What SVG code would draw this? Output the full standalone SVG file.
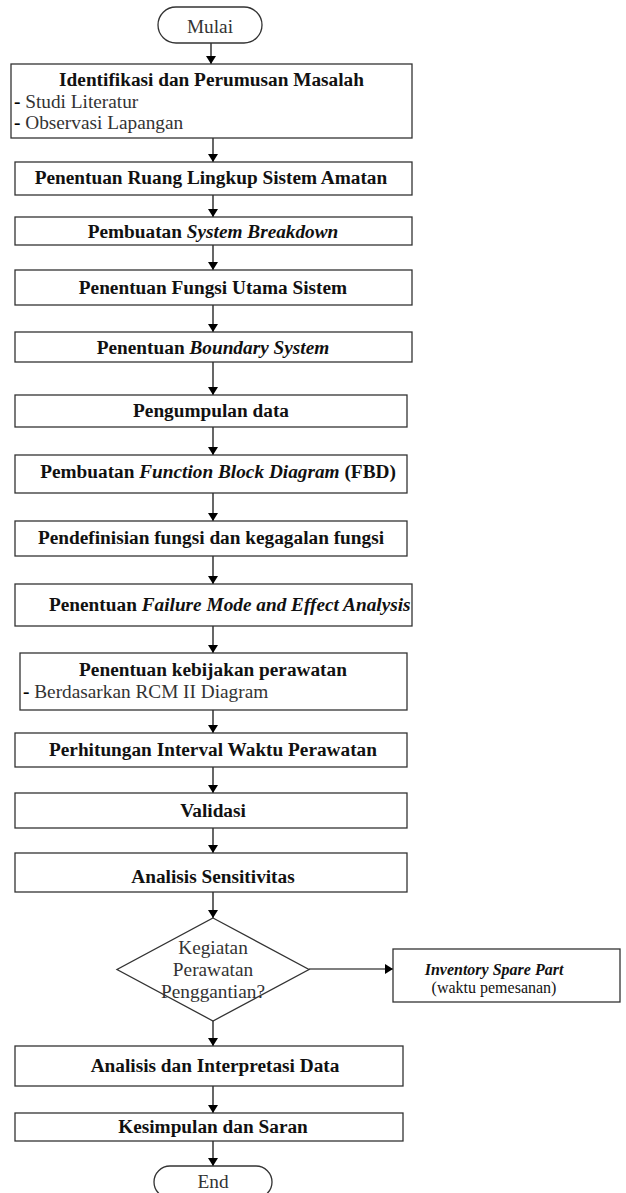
<svg xmlns="http://www.w3.org/2000/svg" width="626" height="1193" viewBox="0 0 626 1193">
<defs>
<marker id="ah" viewBox="0 0 8 10" refX="8" refY="5" markerWidth="8" markerHeight="10" markerUnits="userSpaceOnUse" orient="auto">
<path d="M0,0 L8,5 L0,10 z" fill="#000"/>
</marker>
<clipPath id="c9"><rect x="15" y="584" width="396" height="42"/></clipPath>
<style>
.box{fill:#fff;stroke:#333;stroke-width:1.3}
.t{font-family:"Liberation Serif","Times New Roman",serif;font-size:19.3px;fill:#111}
.b{font-weight:bold}
.c{text-anchor:middle}
.i{font-style:italic}
.g{fill:#333}
.con line{stroke:#000;stroke-width:1.2;marker-end:url(#ah)}
</style>
</defs>
<rect width="626" height="1193" fill="#fff"/>

<g id="connectors" class="con">
<line x1="211" y1="43" x2="211" y2="64"/>
<line x1="213" y1="138" x2="213" y2="162"/>
<line x1="213" y1="195" x2="213" y2="217"/>
<line x1="213" y1="245" x2="213" y2="270"/>
<line x1="213" y1="305" x2="213" y2="332"/>
<line x1="213" y1="362" x2="213" y2="395"/>
<line x1="213" y1="427" x2="213" y2="455"/>
<line x1="213" y1="493" x2="213" y2="521"/>
<line x1="213" y1="556" x2="213" y2="584"/>
<line x1="213" y1="626" x2="213" y2="653"/>
<line x1="213" y1="710" x2="213" y2="733"/>
<line x1="213" y1="767" x2="213" y2="793"/>
<line x1="213" y1="828" x2="213" y2="853"/>
<line x1="213" y1="892" x2="213" y2="918"/>
<line x1="309" y1="969" x2="393" y2="969"/>
<line x1="213" y1="1021" x2="213" y2="1046"/>
<line x1="213" y1="1086" x2="213" y2="1113"/>
<line x1="213" y1="1141" x2="213" y2="1166"/>
</g>

<g id="start">
<rect class="box" x="158" y="7" width="104" height="36" rx="18" ry="18"/>
<text class="t c g" x="210" y="33">Mulai</text>
</g>

<g id="n1">
<rect class="box" x="11" y="64" width="401" height="74"/>
<text class="t b c" x="211.5" y="86">Identifikasi dan Perumusan Masalah</text>
<text class="t g" x="14" y="108"><tspan class="b" fill="#000">-</tspan> Studi Literatur</text>
<text class="t g" x="14" y="129"><tspan class="b" fill="#000">-</tspan> Observasi Lapangan</text>
</g>

<g id="n2">
<rect class="box" x="15" y="162" width="397" height="33"/>
<text class="t b c" x="211" y="184">Penentuan Ruang Lingkup Sistem Amatan</text>
</g>

<g id="n3">
<rect class="box" x="15" y="217" width="397" height="28"/>
<text class="t b c" x="213" y="238">Pembuatan <tspan class="i">System Breakdown</tspan></text>
</g>

<g id="n4">
<rect class="box" x="15" y="270" width="397" height="35"/>
<text class="t b c" x="213" y="294">Penentuan Fungsi Utama Sistem</text>
</g>

<g id="n5">
<rect class="box" x="15" y="332" width="397" height="30"/>
<text class="t b c" x="213" y="354">Penentuan <tspan class="i">Boundary System</tspan></text>
</g>

<g id="n6">
<rect class="box" x="15" y="395" width="392" height="32"/>
<text class="t b c" x="211" y="417">Pengumpulan data</text>
</g>

<g id="n7">
<rect class="box" x="15" y="455" width="392" height="38"/>
<text class="t b c" x="218" y="478">Pembuatan <tspan class="i">Function Block Diagram</tspan> (FBD)</text>
</g>

<g id="n8">
<rect class="box" x="15" y="521" width="392" height="35"/>
<text class="t b c" x="211" y="544">Pendefinisian fungsi dan kegagalan fungsi</text>
</g>

<g id="n9">
<rect class="box" x="15" y="584" width="397" height="42"/>
<text class="t b" x="49" y="611" clip-path="url(#c9)">Penentuan <tspan class="i">Failure Mode and Effect Analysis</tspan></text>
</g>

<g id="n10">
<rect class="box" x="20" y="653" width="387" height="57"/>
<text class="t b c" x="213" y="676">Penentuan kebijakan perawatan</text>
<text class="t g" x="23" y="698"><tspan class="b" fill="#000">-</tspan> Berdasarkan RCM II Diagram</text>
</g>

<g id="n11">
<rect class="box" x="15" y="733" width="392" height="34"/>
<text class="t b c" x="213" y="756">Perhitungan Interval Waktu Perawatan</text>
</g>

<g id="n12">
<rect class="box" x="15" y="793" width="392" height="35"/>
<text class="t b c" x="213" y="817">Validasi</text>
</g>

<g id="n13">
<rect class="box" x="15" y="853" width="392" height="39"/>
<text class="t b c" x="213" y="883">Analisis Sensitivitas</text>
</g>

<g id="decision">
<polygon class="box" points="213,918 309,969.5 213,1021 117,969.5"/>
<text class="t c g" x="213" y="954">Kegiatan</text>
<text class="t c g" x="213" y="976">Perawatan</text>
<text class="t c g" x="213" y="998">Penggantian?</text>
</g>

<g id="inventory">
<rect class="box" x="393" y="949" width="227" height="53"/>
<text class="t b i c" x="494" y="975" style="font-size:16px">Inventory Spare Part</text>
<text class="t c" x="494" y="993" style="font-size:16px">(waktu pemesanan)</text>
</g>

<g id="n14">
<rect class="box" x="15" y="1046" width="388" height="40"/>
<text class="t b c" x="215" y="1072">Analisis dan Interpretasi Data</text>
</g>

<g id="n15">
<rect class="box" x="15" y="1113" width="388" height="28"/>
<text class="t b c" x="213" y="1133">Kesimpulan dan Saran</text>
</g>

<g id="end">
<rect class="box" x="154" y="1166" width="118" height="32" rx="16" ry="16"/>
<text class="t c g" x="213" y="1188">End</text>
</g>
</svg>
